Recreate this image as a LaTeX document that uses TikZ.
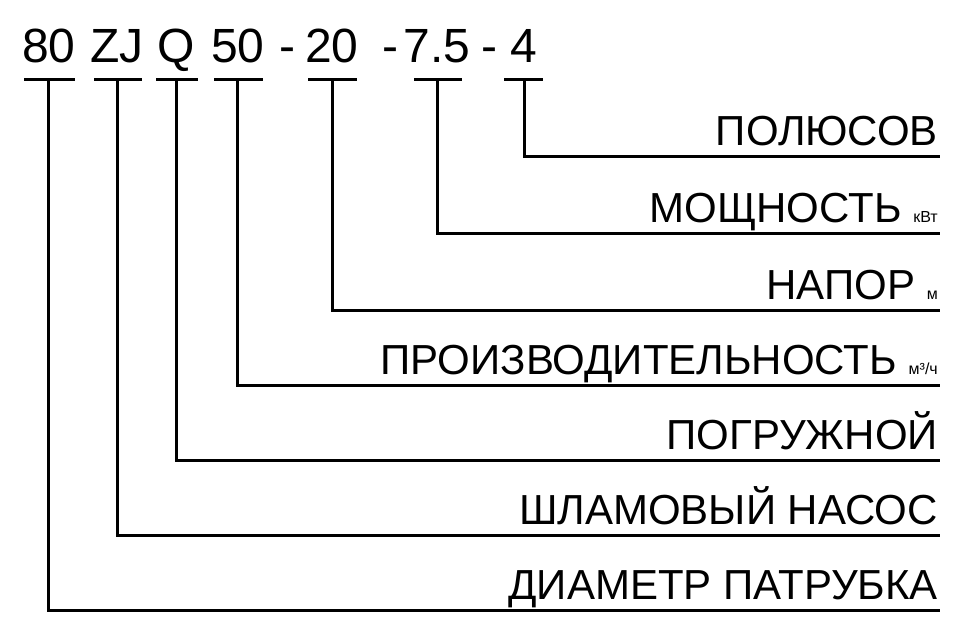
\documentclass[tikz,border=0pt]{standalone}
\usepackage{fontspec}
\setmainfont{Liberation Sans}
\usetikzlibrary{positioning}

\tikzset{
  code/.style={font=\fontsize{48}{48}\selectfont, anchor=base, inner sep=0pt},
  label/.style={font=\fontsize{42}{42}\selectfont, anchor=base east, inner sep=0pt},
  wire/.style={line width=3pt, line cap=rect},
}
\newcommand{\unitsm}[1]{{\fontsize{16}{16}\selectfont #1}}

\begin{document}
\begin{tikzpicture}[x=1pt,y=-1pt]
  \useasboundingbox (0,0) rectangle (960,638);

  % model code
  \node[code] (d)  at (49,62)  {80};
  \node[code] (zj) at (117,62) {ZJ};
  \node[code] (q)  at (176,62) {Q};
  \node[code] (f)  at (238,62) {50};
  \node[code]      at (287,62) {-};
  \node[code] (h)  at (332,62) {20};
  \node[code]      at (390,62) {-};
  \node[code] (p)  at (437,62) {7.5};
  \node[code]      at (489,62) {-};
  \node[code] (n)  at (524,62) {4};

  % bars under the code parts
  \foreach \xa/\xb in {25/73, 95/140, 157/196, 215/261,
                       309/355, 415/460, 505/541}
    \draw[wire] (\xa,79) -- (\xb,79);

  % leaders and labels
  \foreach \x/\y/\txt in {
      524/156/{ПОЛЮСОВ},
      437/233/{МОЩНОСТЬ \unitsm{кВт}},
      332/310/{НАПОР \unitsm{м}},
      237/385/{ПРОИЗВОДИТЕЛЬНОСТЬ \unitsm{м³/ч}},
      176/460/{ПОГРУЖНОЙ},
      117/535/{ШЛАМОВЫЙ НАСОС},
      48/610/{ДИАМЕТР ПАТРУБКА}} {
    \coordinate (top) at (\x,79);
    \coordinate (corner) at (\x,\y);
    \coordinate (end) at (938,\y);
    \draw[wire] (top) -- (corner) -- (end);
    \node[label] at ([yshift=11pt]end) {\txt};
  }
\end{tikzpicture}
\end{document}
